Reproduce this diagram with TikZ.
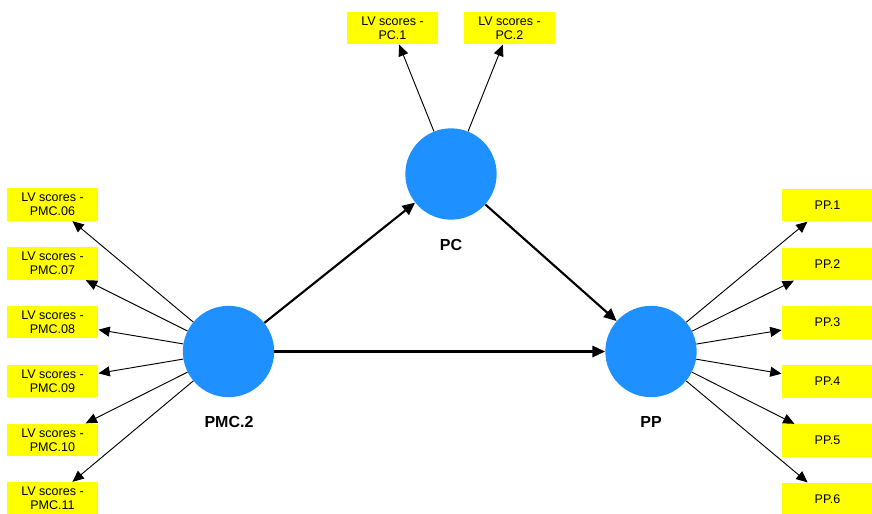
\documentclass[tikz,border=0pt]{standalone}
\usepackage{fontspec}
\setmainfont{Liberation Sans}
\usetikzlibrary{arrows.meta}
\definecolor{lvblue}{RGB}{30,144,255}
\definecolor{lvyellow}{RGB}{255,255,0}
\tikzset{
  lv/.style={circle, fill=lvblue, draw=none, minimum size=68.5pt, inner sep=0pt},
  ind/.style={rectangle, fill=lvyellow, draw=none, minimum width=68.5pt, minimum height=24.6pt,
    inner sep=0pt, align=center, font=\fontsize{9.4}{10.7}\selectfont},
  lvlabel/.style={font=\fontsize{12}{14}\selectfont\bfseries},
  outer/.style={-{Triangle[length=8.5pt,width=7.5pt]}, line width=0.7pt, black},
  inner/.style={-{Triangle[length=9.5pt,width=8.5pt]}, line width=1.6pt, black}
}
\begin{document}
\begin{tikzpicture}[x=0.75pt,y=-0.75pt]
\useasboundingbox (0,0) rectangle (872,514);
% latent variables
\node[lv] (pmc) at (228.5,351.5) {};
\node[lv] (pc) at (451,174) {};
\node[lv] (pp) at (651,351.5) {};
\node[lvlabel] (pmclab) at (229,422) {PMC.2};
\node[lvlabel] (pclab) at (451,245) {PC};
\node[lvlabel] (pplab) at (651,422) {PP};
% left indicators
\node[ind] (m06) at (52.5,204.5) {LV scores -\\PMC.06};
\node[ind] (m07) at (52.5,263.5) {LV scores -\\PMC.07};
\node[ind] (m08) at (52.5,322) {LV scores -\\PMC.08};
\node[ind] (m09) at (52.5,381) {LV scores -\\PMC.09};
\node[ind] (m10) at (52.5,440) {LV scores -\\PMC.10};
\node[ind] (m11) at (52.5,498.5) {LV scores -\\PMC.11};
% top indicators
\node[ind] (pc1) at (392.5,28) {LV scores -\\PC.1};
\node[ind] (pc2) at (509.5,28) {LV scores -\\PC.2};
% right indicators
\node[ind] (pp1) at (827.5,205) {PP.1};
\node[ind] (pp2) at (827.5,264) {PP.2};
\node[ind] (pp3) at (827.5,322.5) {PP.3};
\node[ind] (pp4) at (827.5,381.5) {PP.4};
\node[ind] (pp5) at (827.5,440.5) {PP.5};
\node[ind] (pp6) at (827.5,499) {PP.6};
% outer arrows
\foreach \t in {m06,m07,m08,m09,m10,m11} \draw[outer] (pmc) -- (\t);
\foreach \t in {pc1,pc2} \draw[outer] (pc) -- (\t);
\foreach \t in {pp1,pp2,pp3,pp4,pp5,pp6} \draw[outer] (pp) -- (\t);
% inner arrows
\draw[inner] (pmc) -- (pc);
\draw[inner] (pc) -- (pp);
\draw[inner] (pmc) -- (pp);
\end{tikzpicture}
\end{document}
